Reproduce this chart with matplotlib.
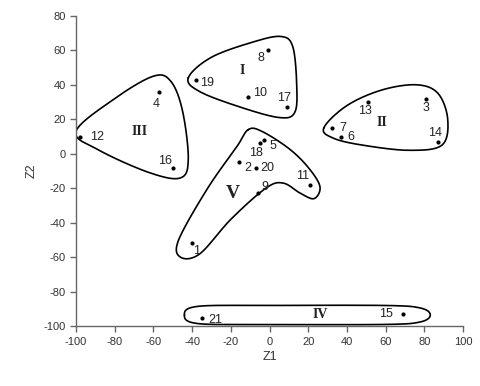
import numpy as np
import matplotlib
matplotlib.use("Agg")
import matplotlib.pyplot as plt

# point ids and their (Z1, Z2) scores
ids = ["1", "2", "3", "4", "5", "6", "7", "8", "9", "10", "11",
       "12", "13", "14", "15", "16", "17", "18", "19", "20", "21"]
z1 = [-40, -16, 81, -57, -3, 37, 32, -1, -6, -11, 21,
      -98, 51, 87, 69, -50, 9, -5, -38, -7, -35]
z2 = [-52, -5, 32, 36, 8, 10, 15, 60, -23, 33, -18,
      10, 30, 7, -93, -8, 27, 6, 43, -8, -95]

# label offsets (pixels) from each point
lab_dx = [4, 9, 0, -3, 9, 10, 11, -7, 7, 12, -8,
          17, -3, -3, -17, -8, -3, -4, 11, 11, 13]
lab_dy = [-8, -6, -9, -12, -6, 0, 0, -8, 6, 4, 9,
          0, -9, 9, 0, 7, 9, -10, -3, 0, -2]

# cluster names and where they are written
groups = ["I", "II", "III", "IV", "V"]
group_x = [-14, 58, -67, 26, -19]
group_y = [48, 18, 13, -93.5, -23]
group_fs = [10, 10, 10, 10, 14]

# rough outline of each cluster (smoothed below)
outline_I = [(-42, 44), (-30, 56), (-8, 65), (6, 68), (12, 62), (14, 40),
             (13, 24), (5, 21), (-15, 27), (-36, 36)]
outline_II = [(28, 15), (40, 28), (58, 37), (76, 40), (87, 35), (92, 20),
              (89, 5), (72, 2), (48, 5), (33, 9)]
outline_III = [(-100, 13), (-80, 32), (-60, 45), (-51, 42), (-45, 25),
               (-42, -3), (-46, -14), (-62, -11), (-88, 2)]
outline_IV = [(-44, -93.5), (-37, -88.5), (0, -88), (60, -88), (78, -89.5),
              (83, -93.5), (78, -97.5), (60, -99), (0, -99), (-37, -98.5)]
outline_V = [(-11, 14), (-4, 13), (10, 3), (20, -8), (26, -19), (23, -26),
             (16, -23), (7, -17), (-2, -20), (-20, -38), (-36, -58),
             (-46, -60), (-47, -50), (-32, -20), (-17, 4)]


def smooth_closed(pts, n=20):
    # closed catmull-rom spline through the outline points
    p = np.array(pts, dtype=float)
    k = len(p)
    out = []
    for i in range(k):
        p0, p1, p2, p3 = p[i - 1], p[i], p[(i + 1) % k], p[(i + 2) % k]
        t = np.linspace(0, 1, n, endpoint=False)[:, None]
        seg = 0.5 * ((2 * p1) + (-p0 + p2) * t + (2 * p0 - 5 * p1 + 4 * p2 - p3) * t ** 2
                     + (-p0 + 3 * p1 - 3 * p2 + p3) * t ** 3)
        out.append(seg)
    out = np.vstack(out)
    return np.vstack([out, out[:1]])


plt.rcParams['font.family'] = ['Liberation Sans', 'DejaVu Sans']
plt.rcParams['axes.unicode_minus'] = False

fig = plt.figure(figsize=(4.81, 3.86), dpi=100)
ax = fig.add_axes([0.158, 0.155, 0.805, 0.804])

for ol in [outline_I, outline_II, outline_III, outline_IV, outline_V]:
    c = smooth_closed(ol)
    ax.plot(c[:, 0], c[:, 1], color="black", lw=1.2, solid_capstyle="round")

ax.plot(z1, z2, "o", color="black", ms=2.0, mec="black")

for i in range(len(ids)):
    ax.annotate(ids[i], (z1[i], z2[i]), xytext=(lab_dx[i], lab_dy[i]),
                textcoords="offset pixels", ha="center", va="center",
                fontsize=9, color="#222222")

for g in range(len(groups)):
    ax.text(group_x[g], group_y[g], groups[g], ha="center", va="center",
            fontsize=group_fs[g], fontweight="bold", color="#222222",
            family=["Liberation Serif", "DejaVu Serif"])

ax.set_xlim(-100, 100)
ax.set_ylim(-100, 80)
ax.set_xticks(np.arange(-100, 101, 20))
ax.set_yticks(np.arange(-100, 81, 20))
ax.spines["top"].set_visible(False)
ax.spines["right"].set_visible(False)
for s in ["left", "bottom"]:
    ax.spines[s].set_color("#666666")
    ax.spines[s].set_linewidth(1.0)
ax.tick_params(direction="out", length=4, width=1, color="#666666",
               labelsize=8, labelcolor="#333333")
ax.set_xlabel("Z1", fontsize=9, color="#333333", labelpad=3)
ax.set_ylabel("Z2", fontsize=9, color="#333333", labelpad=4)

fig.savefig("out.png", dpi=100)
